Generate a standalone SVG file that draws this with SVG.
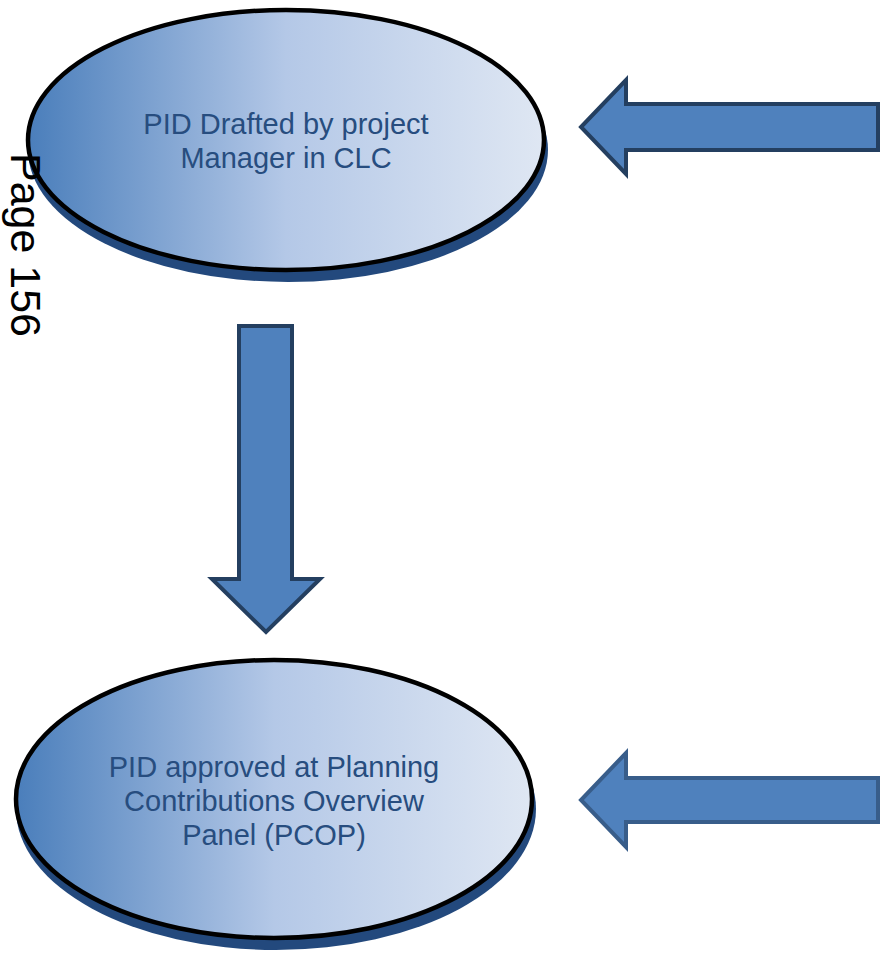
<svg xmlns="http://www.w3.org/2000/svg" width="884" height="954" viewBox="0 0 884 954">
  <defs>
    <linearGradient id="fillGrad" x1="0" y1="0" x2="1" y2="0">
      <stop offset="0" stop-color="#4a7ebb"/>
      <stop offset="0.5" stop-color="#b4c8e7"/>
      <stop offset="1" stop-color="#dfe7f3"/>
    </linearGradient>
    <style>
      .shadow { fill: #23497d; }
      .ell { fill: url(#fillGrad); stroke: #000000; stroke-width: 4.5; }
      .label { font-family: "Liberation Sans", Arial, sans-serif; font-size: 29px; fill: #274d7f; text-anchor: middle; }
      .arrow { fill: #4f81bd; stroke: #243f60; stroke-width: 4; stroke-linejoin: miter; }
      .arrow2 { fill: #4f81bd; stroke: #385d8a; stroke-width: 4; stroke-linejoin: miter; }
      .page { font-family: "Liberation Sans", Arial, sans-serif; font-size: 43px; fill: #000000; }
    </style>
  </defs>
  <rect width="884" height="954" fill="#ffffff"/>

  <g id="node-drafted">
    <ellipse class="shadow" cx="288" cy="150" rx="260" ry="132"/>
    <ellipse class="ell" cx="286" cy="140" rx="258" ry="130"/>
    <text class="label" x="286" y="134">PID Drafted by project</text>
    <text class="label" x="286" y="168">Manager in CLC</text>
  </g>

  <g id="node-approved">
    <ellipse class="shadow" cx="276" cy="809" rx="260" ry="141"/>
    <ellipse class="ell" cx="274" cy="799" rx="258" ry="139"/>
    <text class="label" x="274" y="777">PID approved at Planning</text>
    <text class="label" x="274" y="811">Contributions Overview</text>
    <text class="label" x="274" y="845">Panel (PCOP)</text>
  </g>

  <g id="connectors">
    <polygon class="arrow" points="878,104 626,104 626,80 581,127 626,174 626,150 878,150"/>
    <polygon class="arrow" points="239,326 292,326 292,579 320,579 266,632 212,579 239,579"/>
    <polygon class="arrow2" points="878,778 626,778 626,753 581,800 626,847 626,822 878,822"/>
  </g>

  <text class="page" transform="translate(11,153) rotate(90)" textLength="184" lengthAdjust="spacingAndGlyphs">Page 156</text>
</svg>
